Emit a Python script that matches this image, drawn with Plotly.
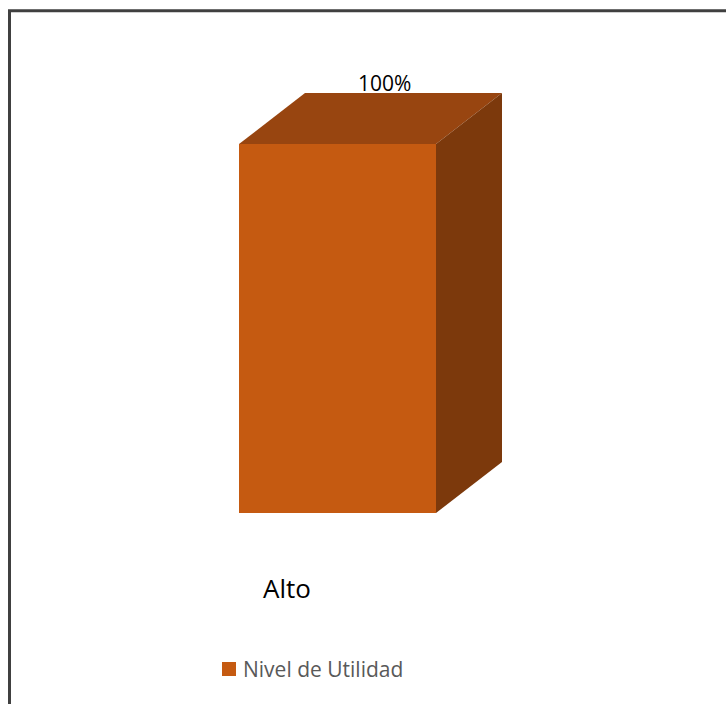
import plotly.graph_objects as go

# Data
categories = ["Alto"]
values = [100]
series_name = "Nivel de Utilidad"

# Style
FRONT = "#C55A11"
TOP = "#984510"
SIDE = "#7C390C"
FONT = "Open Sans"
W, H = 726, 704

# Pseudo-3D depth of the column (in axis units)
bar_w = 1.0
depth_x = 0.335
depth_y = 13.8

fig = go.Figure()

for i, (cat, v) in enumerate(zip(categories, values)):
    x0, x1 = i - bar_w / 2, i + bar_w / 2
    # front face
    fig.add_trace(go.Bar(
        x=[i], y=[v], width=bar_w, name=series_name,
        marker=dict(color=FRONT, line=dict(width=0)),
        showlegend=False, hoverinfo="skip",
    ))
    # top face
    fig.add_trace(go.Scatter(
        x=[x0, x0 + depth_x, x1 + depth_x, x1, x0],
        y=[v, v + depth_y, v + depth_y, v, v],
        mode="lines", fill="toself", fillcolor=TOP,
        line=dict(width=0, color=TOP), showlegend=False, hoverinfo="skip",
    ))
    # side face
    fig.add_trace(go.Scatter(
        x=[x1, x1 + depth_x, x1 + depth_x, x1, x1],
        y=[0, depth_y, v + depth_y, v, 0],
        mode="lines", fill="toself", fillcolor=SIDE,
        line=dict(width=0, color=SIDE), showlegend=False, hoverinfo="skip",
    ))
    # value label
    fig.add_annotation(
        x=i, y=v, xref="x", yref="y", text=f"{v:.0f}%",
        showarrow=False, xanchor="center", yanchor="middle",
        xshift=47, yshift=61,
        font=dict(family=FONT, size=21, color="#000000"),
    )
    # category label
    fig.add_annotation(
        x=i, y=1 - 588 / H, xref="x", yref="paper", text=cat,
        showarrow=False, xanchor="center", yanchor="middle",
        xshift=-51,
        font=dict(family=FONT, size=26, color="#000000"),
    )

# Legend (swatch + text)
fig.add_shape(
    type="rect", xref="paper", yref="paper",
    x0=222 / W, x1=236 / W, y0=1 - 676 / H, y1=1 - 662 / H,
    fillcolor=FRONT, line=dict(width=0),
)
fig.add_annotation(
    x=241 / W, y=1 - 669 / H, xref="paper", yref="paper",
    text=series_name, showarrow=False, xanchor="left", yanchor="middle",
    font=dict(family=FONT, size=21, color="#595959"),
)

# Chart border
fig.add_shape(
    type="rect", xref="paper", yref="paper",
    x0=9.5 / W, x1=1.05, y0=-0.05, y1=1 - 10.8 / H,
    line=dict(color="#404040", width=3), fillcolor="rgba(0,0,0,0)",
    layer="above",
)

fig.update_layout(
    width=W, height=H, autosize=False,
    margin=dict(l=0, r=0, t=0, b=0),
    paper_bgcolor="white", plot_bgcolor="white",
    showlegend=False, barmode="overlay",
    xaxis=dict(domain=[42 / W, 633 / W], range=[-1.5, 1.5], visible=False),
    yaxis=dict(domain=[1 - 513 / H, 1 - 70.2 / H], range=[0, 120], visible=False),
)

fig.write_html("out.html")
